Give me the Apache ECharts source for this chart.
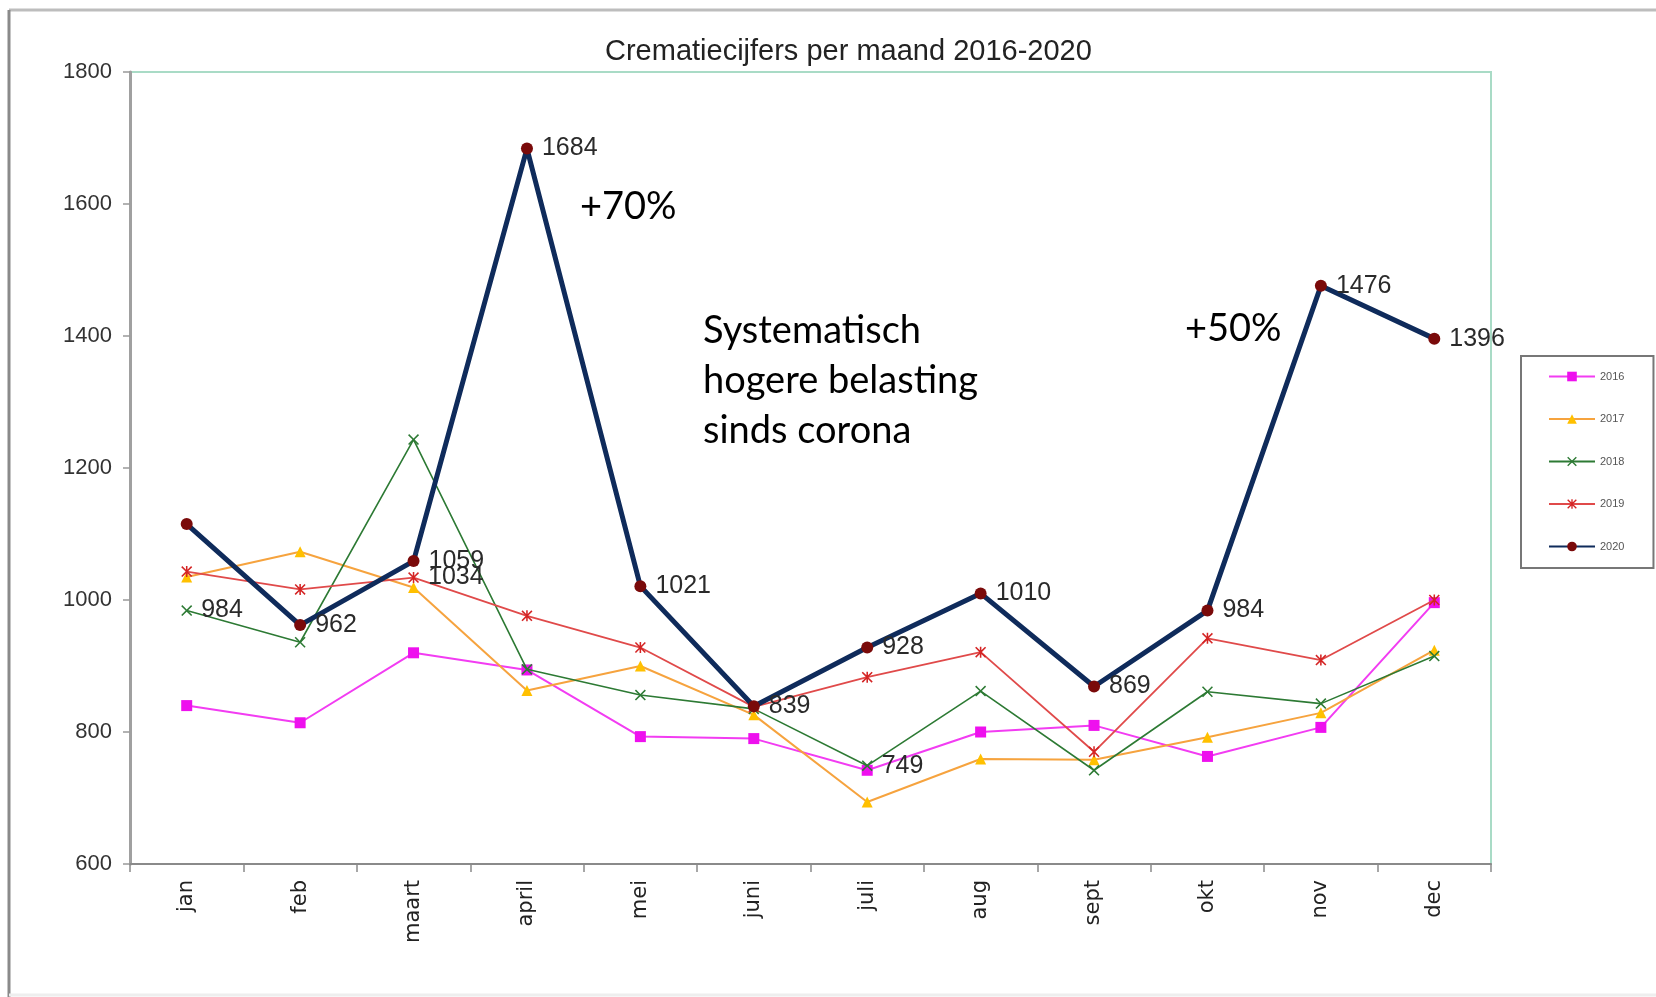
<!DOCTYPE html>
<html>
<head>
<meta charset="utf-8">
<title>Crematiecijfers per maand 2016-2020</title>
<script src="https://cdn.jsdelivr.net/npm/echarts@6/dist/echarts.min.js"></script>
<style>
  html, body { margin: 0; padding: 0; background: #fff; }
  #chart { width: 1656px; height: 997px; }
</style>
</head>
<body>
<div id="chart"></div>
<script>
// maanden
var months = ['jan', 'feb', 'maart', 'april', 'mei', 'juni', 'juli', 'aug', 'sept', 'okt', 'nov', 'dec'];

var y2016 = [840, 814, 920, 894, 793, 790, 742, 800, 810, 763, 807, 996];
var y2017 = [1035, 1073, 1019, 863, 900, 826, 694, 759, 758, 792, 829, 924];
var y2018 = [984, 936, 1243, 895, 856, 835, 749, 862, 742, 861, 843, 915];
var y2019 = [1043, 1016, 1034, 976, 928, 838, 883, 921, 770, 942, 909, 1000];
var y2020 = [1115, 962, 1059, 1684, 1021, 839, 928, 1010, 869, 984, 1476, 1396];

// maanden met een getal erbij
var labelled2018 = ['jan', 'juli'];
var labelled2019 = ['maart'];
var labelled2020 = ['feb', 'maart', 'april', 'mei', 'juni', 'juli', 'aug', 'sept', 'okt', 'nov', 'dec'];

var narrow = "'Liberation Sans Narrow', 'Arial Narrow', 'Liberation Sans', sans-serif";

var labelStyle = {
  show: true,
  position: 'right',
  distance: 9,
  fontFamily: narrow,
  fontSize: 25,
  color: '#2a2a2a'
};

// zet label alleen aan op de gekozen maanden
function withLabels(values, which) {
  return values.map(function (v, i) {
    if (which.indexOf(months[i]) >= 0) {
      return { value: v, label: labelStyle };
    }
    return v;
  });
}

var crossPath = 'path://M0,1 L1,0 L5,4 L9,0 L10,1 L6,5 L10,9 L9,10 L5,6 L1,10 L0,9 L4,5 Z';
var starPath = 'path://M0,1 L1,0 L5,4 L9,0 L10,1 L6,5 L10,9 L9,10 L5,6 L1,10 L0,9 L4,5 Z M4.3,0 L5.7,0 L5.7,10 L4.3,10 Z';

var chart = echarts.init(document.getElementById('chart'));

var option = {
  backgroundColor: '#fff',
  animation: false,
  title: {
    text: 'Crematiecijfers per maand 2016-2020',
    left: 600,
    top: 32,
    textStyle: {
      fontFamily: narrow,
      fontSize: 29,
      fontWeight: 'normal',
      color: '#222'
    }
  },
  grid: {
    left: 130,
    right: 165,
    top: 72,
    bottom: 133,
    containLabel: false,
    show: true,
    borderColor: '#a9dbc6',
    borderWidth: 2
  },
  legend: {
    orient: 'vertical',
    left: 1521,
    top: 356,
    padding: [15, 29, 16, 27],
    itemWidth: 46,
    itemHeight: 12,
    itemGap: 31.5,
    borderColor: '#777',
    borderWidth: 2,
    textStyle: {
      fontFamily: narrow,
      fontSize: 11,
      color: '#555'
    },
    data: ['2016', '2017', '2018', '2019', '2020']
  },
  xAxis: {
    type: 'category',
    data: months,
    boundaryGap: true,
    axisLine: { lineStyle: { color: '#8a8a8a', width: 2 } },
    axisTick: { show: true, interval: 0, length: 8, lineStyle: { color: '#8a8a8a', width: 1.5 } },
    axisLabel: {
      rotate: 90,
      interval: 0,
      margin: 16,
      fontFamily: "'DejaVu Sans', sans-serif",
      fontSize: 21,
      color: '#222'
    },
    splitLine: { show: false }
  },
  yAxis: {
    type: 'value',
    min: 600,
    max: 1800,
    interval: 200,
    axisLine: { show: true, lineStyle: { color: '#a0a0a0', width: 3 } },
    axisTick: { show: true, length: 7, lineStyle: { color: '#999', width: 1.5 } },
    axisLabel: {
      margin: 18,
      fontFamily: narrow,
      fontSize: 22,
      color: '#333',
      formatter: function (v) { return String(v); }
    },
    splitLine: { show: false }
  },
  series: [
    {
      name: '2016',
      type: 'line',
      data: y2016,
      symbol: 'rect',
      symbolSize: 11,
      lineStyle: { color: '#f23cf2', width: 2 },
      itemStyle: { color: '#ee10ee' },
      z: 2
    },
    {
      name: '2017',
      type: 'line',
      data: y2017,
      symbol: 'triangle',
      symbolSize: 11,
      lineStyle: { color: '#f6a33e', width: 2 },
      itemStyle: { color: '#ffc000' },
      z: 3
    },
    {
      name: '2018',
      type: 'line',
      data: withLabels(y2018, labelled2018),
      symbol: crossPath,
      symbolSize: 11,
      lineStyle: { color: '#2d7a34', width: 1.6 },
      itemStyle: { color: '#2d7a34' },
      z: 4
    },
    {
      name: '2019',
      type: 'line',
      data: withLabels(y2019, labelled2019),
      symbol: starPath,
      symbolSize: 11,
      lineStyle: { color: '#e04a4a', width: 1.8 },
      itemStyle: { color: '#d42424' },
      z: 5
    },
    {
      name: '2020',
      type: 'line',
      data: withLabels(y2020, labelled2020),
      symbol: 'circle',
      symbolSize: 12,
      lineStyle: { color: '#0f2b5b', width: 5 },
      itemStyle: { color: '#7a0a0a' },
      z: 6
    }
  ],
  graphic: [
    { type: 'line', shape: { x1: 9, y1: 10, x2: 1656, y2: 10 }, style: { stroke: '#bdbdbd', lineWidth: 3 } },
    { type: 'line', shape: { x1: 9, y1: 10, x2: 9, y2: 997 }, style: { stroke: '#8a8a8a', lineWidth: 3 } },
    { type: 'line', shape: { x1: 9, y1: 995, x2: 1656, y2: 995 }, style: { stroke: '#eeeeee', lineWidth: 3 } },
    {
      type: 'text', left: 580, top: 188, z: 10,
      style: { text: '+70%', fontFamily: 'Lato, sans-serif', fontSize: 38, fill: '#000' }
    },
    {
      type: 'text', left: 703, top: 306, z: 10,
      style: {
        text: 'Systematisch\nhogere belasting\nsinds corona',
        fontFamily: 'Lato, sans-serif', fontSize: 38, lineHeight: 50, fill: '#000'
      }
    },
    {
      type: 'text', left: 1185, top: 310, z: 10,
      style: { text: '+50%', fontFamily: 'Lato, sans-serif', fontSize: 38, fill: '#000' }
    }
  ]
};

chart.setOption(option);
</script>
</body>
</html>
